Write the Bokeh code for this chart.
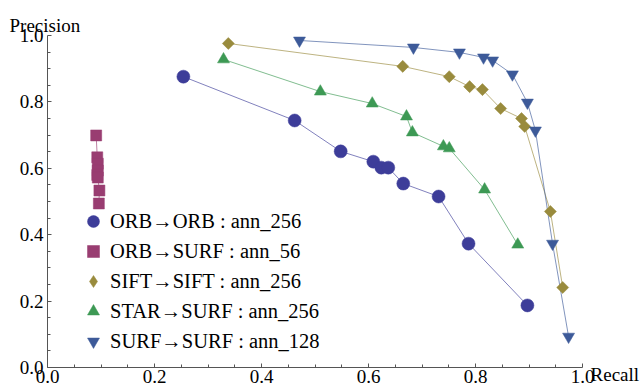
from bokeh.plotting import figure
from bokeh.models import Range1d, FixedTicker, Legend, LegendItem, Label
from bokeh.embed import file_html
from bokeh.resources import INLINE
import math

# ---- data ----
xticks = [0.0, 0.2, 0.4, 0.6, 0.8, 1.0]
xtick_labels = ["0.0", "0.2", "0.4", "0.6", "0.8", "1.0"]
yticks = [0.0, 0.2, 0.4, 0.6, 0.8, 1.0]
ytick_labels = ["0.0", "0.2", "0.4", "0.6", "0.8", "1.0"]
minor_ticks = [0.05, 0.1, 0.15, 0.25, 0.3, 0.35, 0.45, 0.5, 0.55, 0.65, 0.7, 0.75, 0.85, 0.9, 0.95]

orb_orb_recall = [0.254, 0.462, 0.548, 0.609, 0.624, 0.637, 0.665, 0.731, 0.787, 0.897]
orb_orb_prec = [0.876, 0.744, 0.651, 0.620, 0.602, 0.602, 0.554, 0.515, 0.373, 0.187]

orb_surf_recall = [0.091, 0.093, 0.094, 0.094, 0.093, 0.094, 0.097, 0.096]
orb_surf_prec = [0.699, 0.633, 0.614, 0.593, 0.580, 0.572, 0.533, 0.494]

sift_recall = [0.338, 0.664, 0.751, 0.789, 0.813, 0.847, 0.886, 0.892, 0.940, 0.963]
sift_prec = [0.976, 0.907, 0.876, 0.846, 0.837, 0.780, 0.750, 0.726, 0.470, 0.241]

star_recall = [0.329, 0.510, 0.607, 0.671, 0.682, 0.740, 0.751, 0.817, 0.879]
star_prec = [0.928, 0.831, 0.795, 0.756, 0.708, 0.666, 0.660, 0.536, 0.370]

surf_recall = [0.471, 0.684, 0.770, 0.815, 0.832, 0.869, 0.897, 0.912, 0.944, 0.974]
surf_prec = [0.985, 0.964, 0.949, 0.934, 0.925, 0.883, 0.798, 0.714, 0.373, 0.093]

labels = ["ORB\u2192ORB : ann_256", "ORB\u2192SURF : ann_56", "SIFT\u2192SIFT : ann_256",
          "STAR\u2192SURF : ann_256", "SURF\u2192SURF : ann_128"]

FONT = "Liberation Serif"

W, H = 643, 385
# pixel position of the data box (0..1 x 0..1) inside the canvas
X0, X1 = 47, 582
Y1, Y0 = 35, 367
sx = (X1 - X0)
sy = (Y0 - Y1)

p = figure(width=W, height=H, output_backend="svg", toolbar_location=None,
           x_range=Range1d(-X0 / sx, (W - X0) / sx),
           y_range=Range1d(-(H - Y0) / sy, 1 + Y1 / sy),
           min_border_left=0, min_border_right=0, min_border_top=0, min_border_bottom=0)
p.outline_line_color = None
p.xgrid.visible = False
p.ygrid.visible = False

for ax in (p.xaxis[0], p.yaxis[0]):
    ax.fixed_location = 0
    ax.bounds = (0, 1)
    ax.ticker = FixedTicker(ticks=xticks, minor_ticks=minor_ticks)
    ax.axis_line_color = "#555555"
    ax.major_tick_line_color = "#555555"
    ax.minor_tick_line_color = "#555555"
    ax.major_tick_in = 4
    ax.major_tick_out = 0
    ax.minor_tick_in = 3
    ax.minor_tick_out = 0
    ax.major_label_text_font = FONT
    ax.major_label_text_font_size = "19px"
    ax.major_label_text_color = "black"

p.xaxis[0].major_label_overrides = dict(zip(xticks, xtick_labels))
p.yaxis[0].major_label_overrides = dict(zip(yticks, ytick_labels))
p.xaxis[0].major_label_standoff = 2
p.yaxis[0].major_label_standoff = 4

p.add_layout(Label(x=-0.071, y=1.030, text="Precision", text_align="left",
                   text_baseline="alphabetic", text_font=FONT, text_font_size="19px", text_color="black"))
p.add_layout(Label(x=1.015, y=-0.021, text="Recall", text_align="left",
                   text_baseline="alphabetic", text_font=FONT, text_font_size="19px", text_color="black"))

colors = ["#3d3d99", "#993d71", "#998b3d", "#3d9954", "#3d5a99"]
series = [
    (orb_orb_recall, orb_orb_prec, "circle", 13, 0, "circle"),
    (orb_surf_recall, orb_surf_prec, "square", 11, 0, "square"),
    (sift_recall, sift_prec, "square", 8.5, math.pi / 4, "diamond"),
    (star_recall, star_prec, "triangle", 12, 0, "triangle"),
    (surf_recall, surf_prec, "inverted_triangle", 12, 0, "inverted_triangle"),
]

items = []
for (xs, ys, marker, size, ang, lmarker), c in zip(series, colors):
    p.line(xs, ys, line_color=c, line_alpha=0.65, line_width=1)
for (xs, ys, marker, size, ang, lmarker), c, lab in zip(series, colors, labels):
    r = p.scatter(xs, ys, marker=marker, size=size, angle=ang, fill_color=c, line_color=c, line_width=0.5)
    if lmarker != marker:
        # legend swatch only (legend swatches are drawn without rotation); zero size in the plot
        r = p.scatter(xs, ys, marker=lmarker, size=0, fill_color=c, line_color=c, line_width=0.5)
    items.append(LegendItem(label=lab, renderers=[r]))

legend = Legend(items=items, location=(78, 29), label_text_font=FONT, label_text_font_size="20.5px",
                label_text_color="black", glyph_width=30, glyph_height=30, label_height=20,
                label_standoff=2, spacing=0, padding=0, margin=0,
                border_line_color=None, background_fill_alpha=0)
p.add_layout(legend)

open("out.html", "w").write(file_html(p, INLINE))
